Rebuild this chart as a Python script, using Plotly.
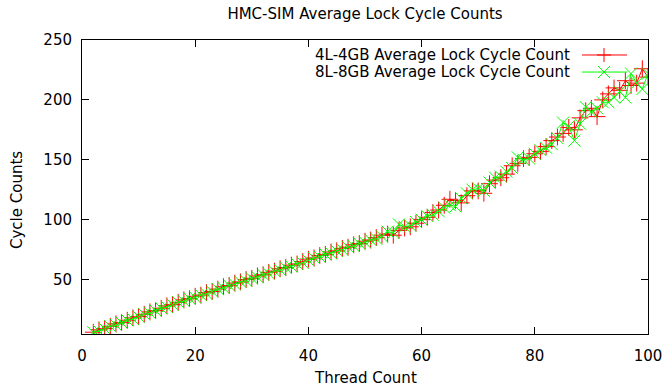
import plotly.graph_objects as go

threads = list(range(2, 101))

red_4l = [6, 8, 9, 11, 13, 14, 16, 18, 19, 21, 23, 24, 26, 28, 29, 31, 33, 34, 36,
          37, 39, 40, 42, 44, 45, 47, 48, 50, 51, 53, 54, 56, 57, 59, 60, 62, 63, 65, 67,
          68, 70, 71, 73, 74, 76, 77, 79, 80, 82, 83, 85, 87, 88, 87, 91, 93, 94, 97, 100,
          102, 106, 108, 112, 117, 116, 114, 120, 124, 124, 122, 130, 133, 135, 138, 145,
          147, 151, 152, 155, 157, 161, 166, 169, 172, 177, 175, 185, 191, 193, 186, 200,
          205, 210, 208, 216, 212, 214, 226, 219]

green_8l = [6, 7, 9, 11, 12, 14, 16, 17, 19, 21, 22, 24, 26, 27, 29, 31, 32, 34, 35,
            37, 38, 40, 42, 43, 45, 46, 48, 49, 51, 52, 54, 55, 57, 58, 60, 61, 63, 64, 66,
            68, 69, 71, 72, 74, 75, 77, 78, 80, 81, 83, 84, 86, 90, 89, 96, 94, 95, 98, 100,
            103, 104, 107, 110, 112, 111, 118, 122, 125, 126, 124, 131, 135, 136, 140, 143,
            152, 150, 151, 155, 158, 160, 163, 168, 181, 178, 166, 180, 194, 190, 193, 198,
            198, 202, 207, 202, 222, 214, 209, 222]

series_names = ["4L-4GB Average Lock Cycle Count", "8L-8GB Average Lock Cycle Count"]
x_ticks = [0, 20, 40, 60, 80, 100]
y_ticks = [50, 100, 150, 200, 250]

RED = "#ff0000"
GREEN = "#00ff00"
FONT = "DejaVu Sans"
FS = 15

fig = go.Figure()
fig.add_trace(go.Scatter(x=threads, y=red_4l, mode="lines+markers", name=series_names[0],
                         line=dict(color=RED, width=1),
                         marker=dict(symbol="cross-thin", size=12, line=dict(color=RED, width=1))))
fig.add_trace(go.Scatter(x=threads, y=green_8l, mode="lines+markers", name=series_names[1],
                         line=dict(color=GREEN, width=1),
                         marker=dict(symbol="x-thin", size=12, line=dict(color=GREEN, width=1))))

axis_common = dict(showgrid=False, zeroline=False, showline=True, linecolor="black", linewidth=1,
                   mirror="ticks", ticks="inside", ticklen=7, tickcolor="black", tickwidth=1,
                   ticklabeloverflow="allow", automargin=False,
                   tickfont=dict(family=FONT, size=FS, color="black"))

fig.update_layout(
    width=662, height=388,
    margin=dict(l=82, r=14, t=40, b=54, autoexpand=False),
    plot_bgcolor="white", paper_bgcolor="white",
    showlegend=False,
    font=dict(family=FONT, size=FS, color="black"),
    title=dict(text="HMC-SIM Average Lock Cycle Counts", x=0.5, xref="paper",
               y=1 - 14 / 388, yref="container", yanchor="middle",
               font=dict(family=FONT, size=FS, color="black")),
    xaxis=dict(range=[0, 100], tickvals=x_ticks, ticklabelstandoff=8, **axis_common),
    yaxis=dict(range=[4.5, 250], tickvals=y_ticks, ticklabelstandoff=6, **axis_common),
)

# axis titles
fig.add_annotation(text="Thread Count", xref="paper", yref="paper", x=0.5, y=0,
                   yanchor="middle", yshift=-44, showarrow=False,
                   font=dict(family=FONT, size=FS, color="black"))
fig.add_annotation(text="Cycle Counts", xref="paper", yref="paper", x=0, y=(334 - 200) / 294,
                   xanchor="center", yanchor="middle", xshift=-65, textangle=-90, showarrow=False,
                   font=dict(family=FONT, size=FS, color="black"))

# custom gnuplot-style key (text left, sample right)
rows = [(0.949, RED, "plus"), (0.891, GREEN, "x")]
tx = (572 - 82) / 566
lx0, lx1 = (582 - 82) / 566, (627 - 82) / 566
mx = (604 - 82) / 566
for (ry, col, kind), name in zip(rows, series_names):
    fig.add_annotation(text=name, xref="paper", yref="paper", x=tx, y=ry, xanchor="right",
                       yanchor="middle", showarrow=False,
                       font=dict(family=FONT, size=FS, color="black"))
    fig.add_shape(type="line", xref="paper", yref="paper", x0=lx0, x1=lx1, y0=ry, y1=ry,
                  line=dict(color=col, width=1))
    if kind == "plus":
        segs = [(-7, 0, 7, 0), (0, -7, 0, 7)]
    else:
        segs = [(-6, -6, 6, 6), (-6, 6, 6, -6)]
    for (a, b, c, d) in segs:
        fig.add_shape(type="line", xref="paper", yref="paper",
                      xsizemode="pixel", xanchor=mx, ysizemode="pixel", yanchor=ry,
                      x0=a, y0=b, x1=c, y1=d, line=dict(color=col, width=1))

fig.write_html("out.html", config={"displayModeBar": False},
               post_script="document.body.style.margin='0';document.body.style.padding='0';")
